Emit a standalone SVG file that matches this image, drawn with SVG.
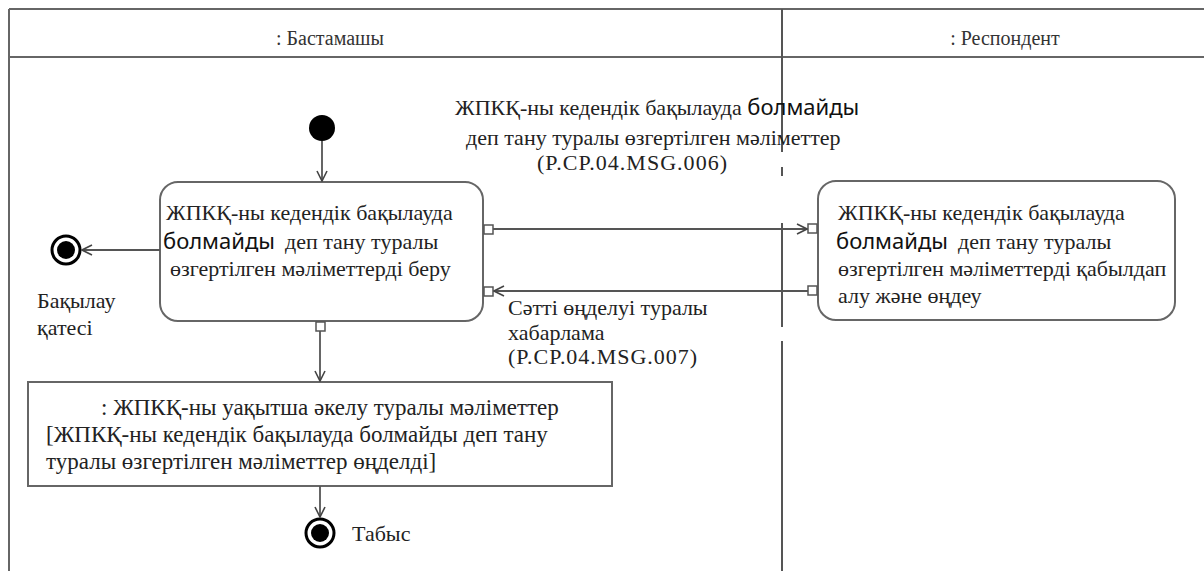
<svg xmlns="http://www.w3.org/2000/svg" width="1204" height="571" viewBox="0 0 1204 571">
<defs>
<style>
.t{font-family:'Liberation Serif','DejaVu Serif',serif;font-size:22px;fill:#222}
.o{font-family:'Liberation Serif','DejaVu Serif',serif;font-size:23px;fill:#222}
.b{font-family:'Noto Sans','Liberation Sans',sans-serif;font-size:22px;fill:#111}
.h{font-family:'Liberation Serif','DejaVu Serif',serif;font-size:20px;fill:#333}
.frame{stroke:#666;stroke-width:2;fill:none}
.lane{stroke:#555;stroke-width:2;fill:none}
.box{fill:#fff;stroke:#666;stroke-width:2}
.pin{fill:#fff;stroke:#555;stroke-width:1.5}
.conn{stroke:#555;stroke-width:1.8;fill:none}
</style>
<marker id="arr" viewBox="0 0 12 12" refX="11" refY="6" markerWidth="12" markerHeight="12" markerUnits="userSpaceOnUse" orient="auto">
<path d="M1,1 L11,6 L1,11" fill="none" stroke="#444" stroke-width="1.6"/>
</marker>
</defs>
<rect width="1204" height="571" fill="#fff"/>
<g id="frame">
<line class="frame" x1="9" y1="9" x2="1204" y2="9"/>
<line class="frame" x1="9" y1="57" x2="1204" y2="57"/>
<line class="frame" x1="9" y1="9" x2="9" y2="571"/>
<line class="lane" x1="782" y1="9" x2="782" y2="152"/>
<line class="lane" x1="782" y1="167" x2="782" y2="176"/>
<line class="lane" x1="782" y1="223" x2="782" y2="327"/>
<line class="lane" x1="782" y1="341" x2="782" y2="571"/>
<text class="h" x="330" y="45" text-anchor="middle">: Бастамашы</text>
<text class="h" x="1005" y="45" text-anchor="middle">: Респондент</text>
</g>
<g id="start">
<circle cx="322" cy="128" r="13" fill="#000"/>
</g>
<g id="act1">
<rect class="box" x="160" y="182" width="323" height="139" rx="18"/>
<text class="t" x="166" y="220">ЖПКҚ-ны кедендік бақылауда</text>
<text x="163" y="249"><tspan class="b">болмайды</tspan><tspan class="t" dx="10">деп тану туралы</tspan></text>
<text class="t" x="170" y="276">өзгертілген мәліметтерді  беру</text>
<rect class="pin" x="484" y="225" width="9" height="9"/>
<rect class="pin" x="484" y="287" width="9" height="9"/>
<rect class="pin" x="316" y="322" width="9" height="9"/>
</g>
<g id="act2">
<rect class="box" x="818" y="181" width="357" height="139" rx="18"/>
<text class="t" x="838" y="220">ЖПКҚ-ны кедендік бақылауда</text>
<text x="836" y="249"><tspan class="b">болмайды</tspan><tspan class="t" dx="10">деп тану туралы</tspan></text>
<text class="t" x="838" y="276">өзгертілген мәліметтерді  қабылдап</text>
<text class="t" x="838" y="303">алу және өңдеу</text>
<rect class="pin" x="808" y="224" width="9" height="9"/>
<rect class="pin" x="808" y="286" width="9" height="9"/>
</g>
<g id="obj">
<rect class="box" x="28" y="382" width="584" height="104" rx="0"/>
<text class="o" x="101" y="415">: ЖПКҚ-ны уақытша әкелу туралы мәліметтер</text>
<text class="o" x="46" y="442">[ЖПКҚ-ны кедендік бақылауда болмайды деп тану</text>
<text class="o" x="46" y="469">туралы өзгертілген мәліметтер өңделді]</text>
</g>
<g id="endErr">
<circle cx="66" cy="250" r="14" fill="#fff" stroke="#000" stroke-width="3"/>
<circle cx="66" cy="250" r="9" fill="#000"/>
<text class="t" x="37" y="308">Бақылау</text>
<text class="t" x="37" y="335">қатесі</text>
</g>
<g id="endOk">
<circle cx="320" cy="533" r="14" fill="#fff" stroke="#000" stroke-width="3"/>
<circle cx="320" cy="533" r="9" fill="#000"/>
<text class="t" x="352" y="541">Табыс</text>
</g>
<g id="connectors">
<line class="conn" x1="322" y1="141" x2="322" y2="181" marker-end="url(#arr)"/>
<line class="conn" x1="160" y1="250" x2="82" y2="250" marker-end="url(#arr)"/>
<line class="conn" x1="493" y1="229" x2="807" y2="229" marker-end="url(#arr)"/>
<line class="conn" x1="808" y1="291" x2="494" y2="291" marker-end="url(#arr)"/>
<line class="conn" x1="320" y1="331" x2="320" y2="381" marker-end="url(#arr)"/>
<line class="conn" x1="320" y1="486" x2="320" y2="517" marker-end="url(#arr)"/>
<text x="455" y="115"><tspan class="t">ЖПКҚ-ны кедендік бақылауда </tspan><tspan class="b">болмайды</tspan></text>
<text class="t" x="466" y="145">деп тану туралы өзгертілген мәліметтер</text>
<text class="t" x="537" y="170" textLength="190" lengthAdjust="spacing">(P.CP.04.MSG.006)</text>
<text class="t" x="508" y="315">Сәтті өңделуі туралы</text>
<text class="t" x="508" y="340">хабарлама</text>
<text class="t" x="508" y="364" textLength="189" lengthAdjust="spacing">(P.CP.04.MSG.007)</text>
</g>
</svg>
